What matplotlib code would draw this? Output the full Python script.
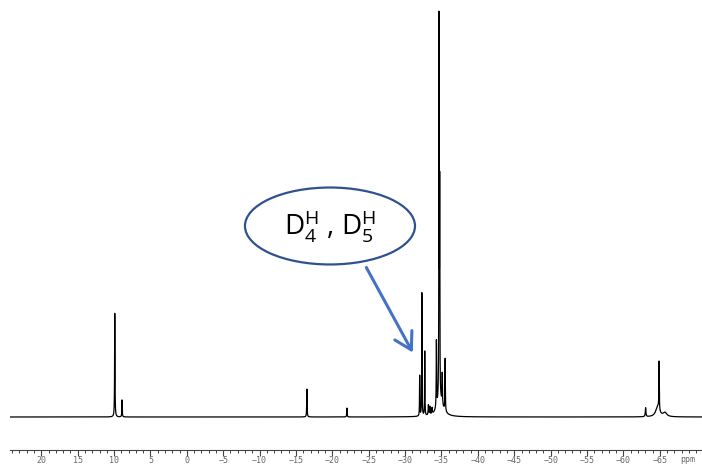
import numpy as np
import matplotlib
matplotlib.use("Agg")
import matplotlib.pyplot as plt
from matplotlib.patches import Ellipse, FancyArrowPatch

# peak table: shift (ppm), relative height, half width (ppm)
shifts = [9.9, 8.9, -16.5, -22.0,
          -32.0, -32.3, -32.7, -33.2, -33.4, -33.7,
          -34.3, -34.66, -34.75, -34.8, -35.1, -35.5,
          -63.05, -64.7, -64.9, -65.7]
heights = [25.7, 4.2, 6.9, 2.2,
           10.0, 30.5, 16.0, 2.5, 2.0, 1.5,
           16.5, 93.0, 50.0, 4.0, 7.5, 13.0,
           2.2, 2.5, 12.0, 1.0]
widths = [0.03, 0.03, 0.03, 0.03,
          0.025, 0.025, 0.025, 0.04, 0.04, 0.04,
          0.03, 0.025, 0.025, 0.5, 0.03, 0.03,
          0.05, 0.3, 0.03, 0.3]

tick_values = list(range(20, -70, -5))
x_left, x_right = 24.3, -70.8

ppm = np.linspace(x_left, x_right, 30000)
spectrum = np.zeros_like(ppm)
for s, h, w in zip(shifts, heights, widths):
    spectrum += h * w**2 / ((ppm - s)**2 + w**2)

fig = plt.figure(figsize=(7.02, 4.65), dpi=100)
ax = fig.add_axes([10 / 702, 15 / 465, 692 / 702, 450 / 465])
ax.plot(ppm, spectrum, color="black", lw=0.9)
ax.set_xlim(x_left, x_right)
ax.set_ylim(-8.17, 103.2)

for side in ("left", "right", "top"):
    ax.spines[side].set_visible(False)
ax.spines["bottom"].set_color("#444444")
ax.spines["bottom"].set_linewidth(0.8)
ax.set_yticks([])
ax.set_xticks(tick_values)
ax.set_xticklabels([str(t).replace("-", "\u2212") for t in tick_values],
                   family="DejaVu Sans Mono", fontsize=6, color="#666666")
ax.set_xticks(np.arange(24, -71, -1), minor=True)
ax.tick_params(axis="x", which="major", length=4, width=0.8, color="#444444", pad=0.5)
ax.tick_params(axis="x", which="minor", length=2.5, width=0.7, color="#444444")
ax.text(-68.8, -0.011, "ppm", transform=ax.get_xaxis_transform(), ha="center",
        va="top", family="DejaVu Sans Mono", fontsize=6, color="#666666")

# label bubble and arrow
ell = Ellipse((0.4624, 0.4978), 0.2457, 0.171, transform=ax.transAxes,
              fill=False, edgecolor="#2F528F", lw=1.6)
ax.add_patch(ell)
ax.text(0.4624, 0.4978, r"$\mathregular{D^{H}_{4}}$ , $\mathregular{D^{H}_{5}}$",
        transform=ax.transAxes, ha="center", va="center",
        family="Open Sans", fontsize=20)
arrow = FancyArrowPatch((0.513, 0.411), (0.584, 0.2111), transform=ax.transAxes,
                        arrowstyle="->,head_length=0.6,head_width=0.35",
                        mutation_scale=20, color="#4472C4", lw=2.2)
ax.add_patch(arrow)

fig.savefig("out.png", dpi=100)
